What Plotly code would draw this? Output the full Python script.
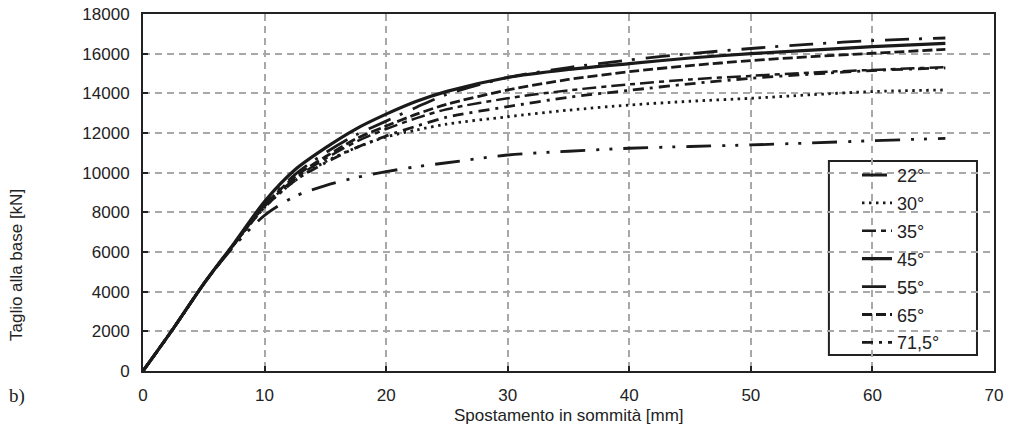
import plotly.graph_objects as go

# Data
disp = [0, 2.5, 5, 7.5, 10, 12.5, 15, 17.5, 20, 22.5, 25, 30, 35, 40, 45, 50, 55, 60, 66]

s22 = [0, 2150, 4400, 6300, 7850, 8800, 9350, 9750, 10050, 10300, 10500, 10890, 11080, 11230, 11320, 11400, 11500, 11610, 11730]
s30 = [0, 2150, 4400, 6400, 8250, 9600, 10550, 11250, 11800, 12150, 12450, 12820, 13150, 13410, 13600, 13750, 13930, 14090, 14170]
s35 = [0, 2150, 4400, 6400, 8300, 9700, 10700, 11550, 12200, 12750, 13200, 13750, 14150, 14450, 14700, 14880, 15050, 15180, 15320]
s45 = [0, 2150, 4400, 6450, 8550, 10150, 11250, 12200, 12950, 13600, 14100, 14800, 15200, 15500, 15780, 16000, 16180, 16350, 16520]
s55 = [0, 2150, 4400, 6400, 8400, 9900, 11000, 11900, 12600, 13300, 13950, 14800, 15300, 15680, 16000, 16260, 16480, 16660, 16790]
s65 = [0, 2150, 4400, 6400, 8350, 9800, 10800, 11700, 12350, 12950, 13450, 14170, 14700, 15090, 15400, 15650, 15850, 16020, 16220]
s715 = [0, 2150, 4400, 6400, 8250, 9600, 10500, 11250, 11850, 12350, 12800, 13330, 13800, 14150, 14480, 14760, 14970, 15150, 15280]

names = ["22°", "30°", "35°", "45°", "55°", "65°", "71,5°"]
series = [s22, s30, s35, s45, s55, s65, s715]

styles = [
    dict(dash="25px,11px,3px,10px,3px,11px", width=2.8),
    dict(dash="2.5px,4.5px", width=2.8),
    dict(dash="14px,5px,5px,5px", width=2.5),
    dict(dash="solid", width=3.2),
    dict(dash="24px,10px,3px,11px", width=2.8),
    dict(dash="10px,4px", width=2.8),
    dict(dash="11px,6px,3px,6px", width=2.8),
]

fig = go.Figure()
pad = "\u00a0" * 6
for nm, ys, st in zip(names, series, styles):
    fig.add_trace(go.Scatter(
        x=disp, y=ys, mode="lines", name=nm + pad, legendgroup=nm,
        line=dict(color="#1a1a1a", width=st["width"], dash=st["dash"],
                  shape="spline", smoothing=0.8),
    ))

axis_common = dict(
    showline=True, mirror=True, linecolor="#222", linewidth=2,
    ticks="inside", ticklen=5, tickwidth=1.5, tickcolor="#222",
    showgrid=True, gridcolor="#a8a8a8", gridwidth=1.5, griddash="7px,5px",
    zeroline=False, tickfont=dict(size=17, color="#222"), automargin=False,
    tickformat="d",
)

fig.update_layout(
    width=1009, height=434,
    margin=dict(l=143, r=15, t=14, b=63, autoexpand=False),
    paper_bgcolor="white", plot_bgcolor="white",
    font=dict(family="Liberation Sans, Arial, sans-serif", size=17, color="#222"),
    xaxis=dict(range=[0, 70], dtick=10, ticklabelstandoff=8, **axis_common),
    yaxis=dict(range=[0, 18000], dtick=2000, ticklabelstandoff=8, **axis_common),
    showlegend=True,
    legend=dict(x=0.839, y=0.600, xanchor="left", yanchor="top",
                bgcolor="rgba(0,0,0,0)", borderwidth=0,
                font=dict(size=18, color="#222"), tracegroupgap=1.5,
                itemwidth=30),
    shapes=[dict(type="rect", xref="paper", yref="paper",
                 x0=0.806, x1=0.980, y0=0.045, y1=0.588,
                 line=dict(color="#222", width=2), fillcolor="white",
                 layer="between")],
    annotations=[
        dict(text="Taglio alla base [kN]", xref="paper", yref="paper",
             x=-0.148, y=0.297, xanchor="center", yanchor="middle",
             textangle=-90, showarrow=False, font=dict(size=17, color="#222")),
        dict(text="Spostamento in sommità [mm]", xref="paper", yref="paper",
             x=0.5, y=-0.125, xanchor="center", yanchor="middle",
             showarrow=False, font=dict(size=17, color="#222")),
        dict(text="b)", xref="paper", yref="paper",
             x=-0.148, y=-0.07, xanchor="center", yanchor="middle",
             showarrow=False,
             font=dict(family="Liberation Serif, Times New Roman, serif", size=19, color="#222")),
    ],
)

fig.write_html("out.html", config={"displayModeBar": False},
               post_script="document.body.style.margin='0px';document.body.style.overflow='hidden';")
